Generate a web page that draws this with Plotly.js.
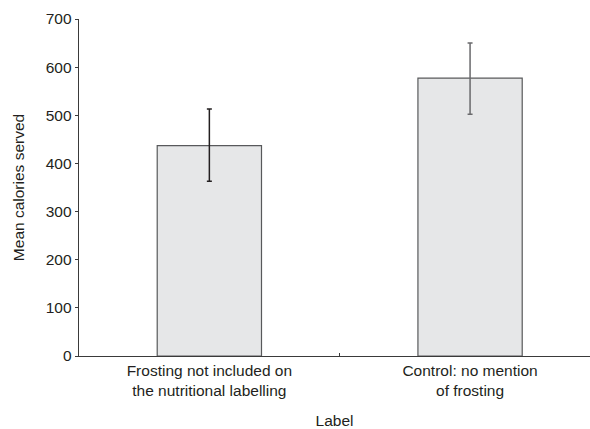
<!DOCTYPE html>
<html>
<head>
<meta charset="utf-8">
<script src="https://cdn.plot.ly/plotly-3.0.1.min.js"></script>
<style>html,body{margin:0;padding:0;background:#fff;overflow:hidden}</style>
</head>
<body>
<div id="chart" style="width:590px;height:429px"></div>
<script>
var categories = ["Frosting not included on<br>the nutritional labelling", "Control: no mention<br>of frosting"];
var meanCalories = [437, 577];
var errorPlus = [76, 73];
var errorMinus = [74, 75];
var errorColors = ["#231f20", "#6a6a6c"];
var yTicks = [0, 100, 200, 300, 400, 500, 600, 700];

var traces = categories.map(function (c, i) {
  return {
    type: "bar",
    x: [c],
    y: [meanCalories[i]],
    width: 0.4,
    marker: {color: "#e6e7e8", line: {color: "#58595b", width: 1.2}},
    error_y: {
      type: "data", symmetric: false,
      array: [errorPlus[i]], arrayminus: [errorMinus[i]],
      color: errorColors[i], thickness: 1.5, width: 2.5
    },
    hoverinfo: "none",
    showlegend: false
  };
});

var fs = 15.5;
var font = {family: "Liberation Sans, Arial, sans-serif", size: fs, color: "#231f20"};

var layout = {
  width: 590, height: 429,
  margin: {l: 79, r: 0, t: 19, b: 72.5},
  paper_bgcolor: "#fff", plot_bgcolor: "#fff",
  barmode: "overlay",
  font: font,
  xaxis: {
    type: "category",
    categoryorder: "array", categoryarray: categories,
    range: [-0.5, 1.46],
    showline: true, linecolor: "#3a3a3a", linewidth: 1.3,
    showgrid: false, zeroline: false,
    ticks: "inside", tickson: "boundaries", ticklen: 3, tickcolor: "#3a3a3a",
    tickfont: font,
    title: {text: "Label", font: font, standoff: 17}
  },
  yaxis: {
    range: [0, 700],
    tickvals: yTicks,
    ticktext: yTicks.map(String),
    showline: true, linecolor: "#3a3a3a", linewidth: 1.3,
    showgrid: false, zeroline: false,
    ticks: "outside", ticklen: 3, tickcolor: "#3a3a3a",
    tickfont: font,
    title: {text: "Mean calories served", font: font, standoff: 17}
  }
};

Plotly.newPlot("chart", traces, layout, {displayModeBar: false, staticPlot: true});
</script>
</body>
</html>
